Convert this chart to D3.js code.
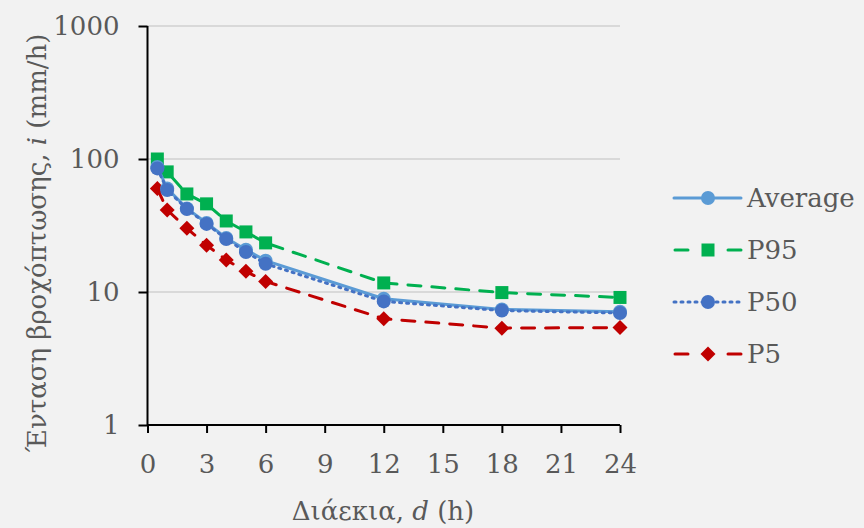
<!DOCTYPE html>
<html>
<head>
<meta charset="utf-8">
<script src="https://cdn.jsdelivr.net/npm/d3@7"></script>
<style>
  body { margin: 0; background: #F2F2F2; }
  svg text { font-family: "Palatino Linotype", "Book Antiqua", Palatino, "DejaVu Serif", serif; fill: #595959; }
</style>
</head>
<body>
<div id="chart-area"></div>
<script>
// *********************
// Data
// *********************

const durations = [0.5, 1, 2, 3, 4, 5, 6, 12, 18, 24];
const average = [87, 60, 42.5, 33, 25.5, 20.8, 17.2, 8.9, 7.4, 7.1];
const p95 = [100, 80, 54.6, 46, 34.2, 28.3, 23.4, 11.7, 9.9, 9.1];
const p50 = [85, 58.5, 42, 32.5, 25, 20, 16.3, 8.5, 7.25, 6.95];
const p5 = [60, 41.4, 30.1, 22.5, 17.4, 14.3, 12, 6.3, 5.35, 5.4];
const xTicks = [0, 3, 6, 9, 12, 15, 18, 21, 24];
const yTicks = [1, 10, 100, 1000];

const seriesList = [
	{name: "Average", values: average, color: "#5B9BD5", dash: null, marker: "circle"},
	{name: "P95", values: p95, color: "#00B050", dash: "13,11", marker: "square"},
	{name: "P50", values: p50, color: "#4472C4", dash: "2,5", marker: "circle"},
	{name: "P5", values: p5, color: "#C00000", dash: "13,11", marker: "diamond"}
];

// *********************
// Setup
// *********************

const width = 864;
const height = 528;

const svg = d3.select("#chart-area")
	.append("svg")
	.attr("width", width)
	.attr("height", height);

svg.append("rect")
	.attr("width", width)
	.attr("height", height)
	.attr("fill", "#F2F2F2");

// Scales
const x = d3.scaleLinear().domain([0, 24]).range([147.5, 620]);
const y = d3.scaleLog().domain([1, 1000]).range([425, 26]);

// Gridlines
svg.append("g")
	.selectAll("line")
	.data(yTicks.slice(1))
	.join("line")
	.attr("x1", x(0))
	.attr("x2", x(24))
	.attr("y1", d => y(d))
	.attr("y2", d => y(d))
	.attr("stroke", "#D9D9D9")
	.attr("stroke-width", 2);

// Axes
const xAxis = d3.axisBottom(x)
	.tickValues(xTicks)
	.tickSize(8)
	.tickPadding(20)
	.tickFormat(d3.format("d"));

const xAxisGroup = svg.append("g")
	.attr("transform", "translate(0," + y(1) + ")")
	.call(xAxis);

const yAxis = d3.axisLeft(y)
	.tickValues(yTicks)
	.tickSize(9)
	.tickPadding(19)
	.tickFormat(d3.format("d"));

const yAxisGroup = svg.append("g")
	.attr("transform", "translate(" + x(0) + ",0)")
	.call(yAxis);

svg.selectAll(".domain, .tick line")
	.attr("stroke", "#000")
	.attr("stroke-width", 2);
xAxisGroup.select(".domain").attr("d", "M" + x(0) + ",0H" + x(24));
yAxisGroup.select(".domain").attr("d", "M0," + y(1) + "V" + y(1000));

svg.selectAll(".tick text")
	.attr("fill", "#595959")
	.attr("font-size", "26px")
	.attr("font-family", null);
xAxisGroup.selectAll(".tick text").attr("dy", "0.75em");

// Axis titles
const xTitle = svg.append("text")
	.attr("x", 383)
	.attr("y", 520)
	.attr("text-anchor", "middle")
	.attr("font-size", "26px");
xTitle.append("tspan").text("Διάεκια, ");
xTitle.append("tspan").attr("font-style", "italic").text("d");
xTitle.append("tspan").text(" (h)");

const yTitle = svg.append("text")
	.attr("transform", "translate(46,243) rotate(-90)")
	.attr("text-anchor", "middle")
	.attr("font-size", "26px");
yTitle.append("tspan").text("Ένταση βροχόπτωσης, ");
yTitle.append("tspan").attr("font-style", "italic").text("i");
yTitle.append("tspan").text(" (mm/h)");

// *********************
// Series
// *********************

const line = d3.line()
	.x((d, i) => x(durations[i]))
	.y(d => y(d));

function drawMarker(sel, type, color, cx, cy) {
	if (type === "circle") {
		sel.append("circle").attr("cx", cx).attr("cy", cy).attr("r", 7).attr("fill", color);
	} else if (type === "square") {
		sel.append("rect").attr("x", cx - 6.5).attr("y", cy - 6.5).attr("width", 13).attr("height", 13).attr("fill", color);
	} else {
		const r = 7.5;
		sel.append("path")
			.attr("d", "M0," + (-r) + "L" + r + ",0L0," + r + "L" + (-r) + ",0Z")
			.attr("transform", "translate(" + cx + "," + cy + ")")
			.attr("fill", color);
	}
}

const order = ["P5", "P95", "Average", "P50"];
order.forEach(name => {
	const s = seriesList.find(d => d.name === name);
	const g = svg.append("g");
	g.append("path")
		.attr("d", line(s.values))
		.attr("fill", "none")
		.attr("stroke", s.color)
		.attr("stroke-width", 3)
		.attr("stroke-dasharray", s.dash)
		.attr("stroke-linecap", "round");
	s.values.forEach((v, i) => drawMarker(g, s.marker, s.color, x(durations[i]), y(v)));
});

// *********************
// Legend
// *********************

const legend = svg.append("g");
seriesList.forEach((s, i) => {
	const ly = 198 + i * 52;
	const row = legend.append("g");
	let segs;
	if (s.dash === null || s.name === "P50") {
		segs = [[674, 741]];
	} else {
		segs = [[675, 688], [728, 741]];
	}
	segs.forEach(seg => {
		row.append("line")
			.attr("x1", seg[0])
			.attr("x2", seg[1])
			.attr("y1", ly)
			.attr("y2", ly)
			.attr("stroke", s.color)
			.attr("stroke-width", 3)
			.attr("stroke-dasharray", s.name === "P50" ? "2,5" : null)
			.attr("stroke-linecap", "round");
	});
	drawMarker(row, s.marker, s.color, 708, ly);
	row.append("text")
		.attr("x", 747)
		.attr("y", ly + 9)
		.attr("font-size", "26px")
		.text(s.name);
});
</script>
</body>
</html>
